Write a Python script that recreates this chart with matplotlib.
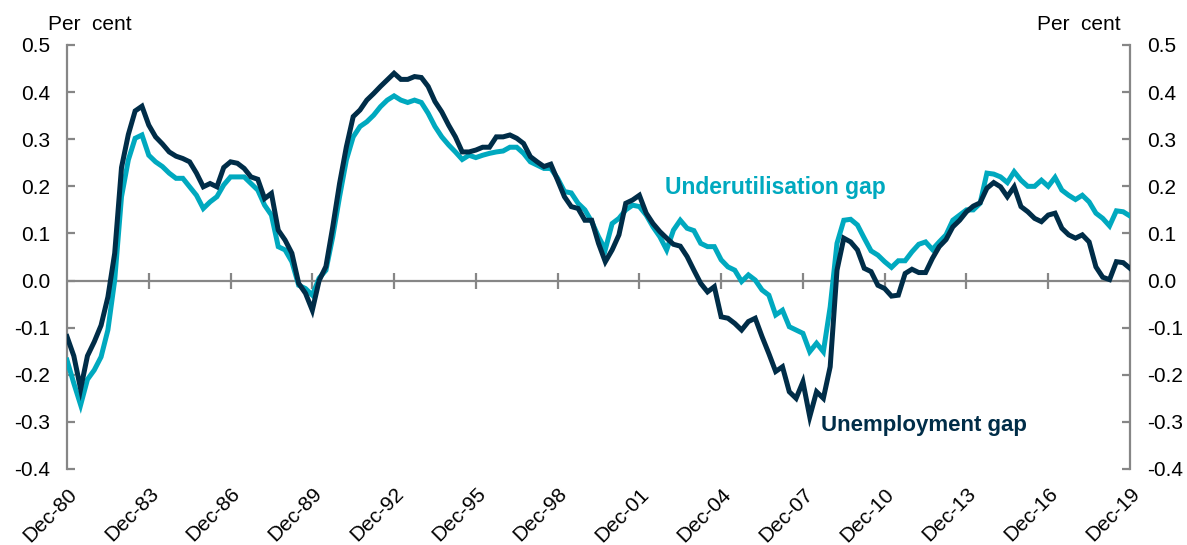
import numpy as np
import matplotlib
matplotlib.use("Agg")
import matplotlib.pyplot as plt

plt.rcParams['font.family'] = ['Liberation Sans', 'DejaVu Sans']

# Quarterly, Dec-80 .. Dec-19
unemployment_gap = [
    -0.119, -0.16, -0.23, -0.16, -0.13, -0.095, -0.035, 0.058, 0.24, 0.31,
    0.36, 0.37, 0.33, 0.305, 0.29, 0.273, 0.264, 0.259, 0.252, 0.228,
    0.199, 0.206, 0.199, 0.24, 0.252, 0.249, 0.238, 0.22, 0.215, 0.174,
    0.185, 0.107, 0.086, 0.058, -0.006, -0.027, -0.063, 0.0, 0.03, 0.114,
    0.206, 0.284, 0.348, 0.362, 0.383, 0.397, 0.412, 0.426, 0.44, 0.427,
    0.427, 0.433, 0.431, 0.412, 0.38, 0.358, 0.33, 0.305, 0.273, 0.273,
    0.277, 0.283, 0.283, 0.305, 0.305, 0.309, 0.302, 0.291, 0.263, 0.252,
    0.242, 0.247, 0.213, 0.178, 0.157, 0.153, 0.128, 0.128, 0.079, 0.04,
    0.065, 0.097, 0.164, 0.171, 0.181, 0.143, 0.121, 0.104, 0.09, 0.077,
    0.073, 0.051, 0.022, -0.006, -0.024, -0.013, -0.077, -0.08, -0.091, -0.105,
    -0.087, -0.08, -0.119, -0.155, -0.193, -0.183, -0.236, -0.25, -0.215, -0.289,
    -0.236, -0.25, -0.183, 0.022, 0.09, 0.082, 0.065, 0.026, 0.019, -0.01,
    -0.017, -0.033, -0.031, 0.015, 0.024, 0.017, 0.017, 0.047, 0.072, 0.087,
    0.114, 0.128, 0.146, 0.158, 0.165, 0.196, 0.208, 0.199, 0.178, 0.199,
    0.157, 0.146, 0.132, 0.125, 0.139, 0.143, 0.111, 0.097, 0.09, 0.097,
    0.082, 0.029, 0.007, 0.002, 0.04, 0.038, 0.026,
]

underutilisation_gap = [
    -0.169, -0.218, -0.264, -0.21, -0.19, -0.162, -0.105, 0.001, 0.178, 0.256,
    0.302, 0.309, 0.266, 0.252, 0.242, 0.228, 0.217, 0.217, 0.199, 0.181,
    0.153, 0.167, 0.178, 0.203, 0.22, 0.22, 0.22, 0.206, 0.192, 0.16,
    0.139, 0.072, 0.065, 0.04, -0.01, -0.017, -0.031, 0.005, 0.022, 0.093,
    0.178, 0.256, 0.305, 0.327, 0.337, 0.351, 0.369, 0.383, 0.392, 0.383,
    0.378, 0.383, 0.378, 0.355, 0.327, 0.305, 0.288, 0.273, 0.257, 0.266,
    0.261, 0.266, 0.27, 0.273, 0.275, 0.283, 0.283, 0.27, 0.252, 0.245,
    0.238, 0.238, 0.217, 0.189, 0.186, 0.164, 0.15, 0.125, 0.093, 0.066,
    0.121, 0.132, 0.15, 0.16, 0.157, 0.139, 0.114, 0.093, 0.065, 0.107,
    0.128, 0.111, 0.106, 0.079, 0.072, 0.072, 0.044, 0.029, 0.022, -0.002,
    0.012, 0.001, -0.02, -0.031, -0.073, -0.063, -0.098, -0.105, -0.112, -0.151,
    -0.133, -0.151, -0.056, 0.079, 0.128, 0.13, 0.118, 0.09, 0.063, 0.054,
    0.04, 0.028, 0.042, 0.042, 0.061, 0.077, 0.082, 0.066, 0.082, 0.097,
    0.128, 0.139, 0.15, 0.15, 0.164, 0.228, 0.226, 0.22, 0.208, 0.231,
    0.213, 0.2, 0.2, 0.213, 0.2, 0.219, 0.192, 0.181, 0.172, 0.181,
    0.167, 0.143, 0.132, 0.116, 0.148, 0.146, 0.137,
]

x_tick_labels = ["Dec-80", "Dec-83", "Dec-86", "Dec-89", "Dec-92", "Dec-95", "Dec-98",
                 "Dec-01", "Dec-04", "Dec-07", "Dec-10", "Dec-13", "Dec-16", "Dec-19"]
y_ticks = [-0.4, -0.3, -0.2, -0.1, 0.0, 0.1, 0.2, 0.3, 0.4, 0.5]

DARK = "#002D48"
TEAL = "#00A9BF"
GREY = "#868686"

fig = plt.figure(figsize=(11.87, 5.45), dpi=100)
ax = fig.add_axes([67/1187, 1-469/545, (1130-67)/1187, (469-45)/545])

x = np.arange(len(unemployment_gap))
ax.axhline(0, color=GREY, lw=1.6, zorder=1)
ax.plot(x, underutilisation_gap, color=TEAL, lw=3.6, zorder=3, solid_joinstyle='miter')
ax.plot(x, unemployment_gap, color=DARK, lw=3.6, zorder=4, solid_joinstyle='miter')

ax.set_xlim(0, len(x) - 1)
ax.set_ylim(-0.4, 0.5)

for s in ['top', 'bottom']:
    ax.spines[s].set_visible(False)
for s in ['left', 'right']:
    ax.spines[s].set_color(GREY)
    ax.spines[s].set_linewidth(1.6)

ax.set_yticks(y_ticks)
ax.set_yticklabels([f"{v:.1f}" for v in y_ticks])
ax.tick_params(axis='y', which='both', direction='in', length=6, width=1.6, color=GREY,
               labelsize=15, left=True, right=True, labelleft=True, labelright=True, pad=12)

xt = np.arange(0, len(x), 12)
ax.set_xticks(xt)
ax.set_xticklabels(x_tick_labels, rotation=45, ha='right', va='top', rotation_mode='anchor')
ax.tick_params(axis='x', length=0, labelsize=15, pad=11)

# tick marks on the zero line
sec = ax.secondary_xaxis(0.4 / 0.9)
sec.spines['bottom'].set_visible(False)
sec.set_xticks(xt[1:-1])
sec.set_xticklabels([])
sec.tick_params(axis='x', direction='inout', length=12, width=1.6, color=GREY)

fig.text(48/1187, 1-24/545, "Per  cent", fontsize=15, ha='left', va='center')
fig.text(1121/1187, 1-24/545, "Per  cent", fontsize=15, ha='right', va='center')

ax.text(87.8, 0.198, "Underutilisation gap", color=TEAL, fontsize=16.5, fontweight='bold',
        ha='left', va='center')
ax.text(110.6, -0.307, "Unemployment gap", color=DARK, fontsize=16, fontweight='bold',
        ha='left', va='center')

fig.savefig("out.png", dpi=100)
